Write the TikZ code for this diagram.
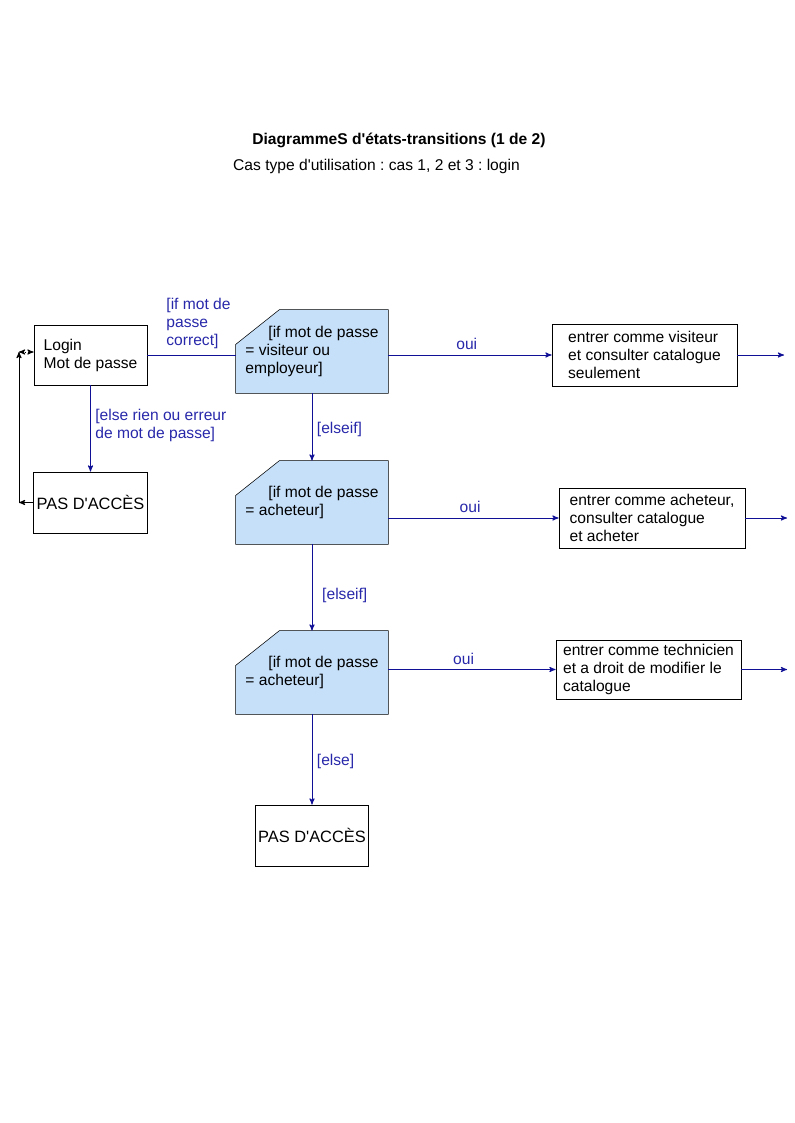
\documentclass[tikz,border=0pt]{standalone}
\usepackage{fontspec}
\setmainfont{Liberation Sans}
\usepackage{xcolor}
\usetikzlibrary{positioning,arrows,backgrounds}
\definecolor{lineblue}{RGB}{16,16,150}
\definecolor{textblue}{RGB}{40,40,170}
\definecolor{condfill}{RGB}{198,224,250}
\frenchspacing

\begin{document}
\begin{tikzpicture}[x=0.75pt,y=-0.75pt,>=stealth',line width=0.7pt]
  \tikzstyle{every node}=[font=\fontsize{11.7}{13.5}\selectfont]
  \tikzstyle{state}=[draw=black,align=left,inner sep=0pt]
  \tikzstyle{refus}=[draw=black,align=center,inner sep=0pt,minimum width=85pt,
                     minimum height=45.75pt,font=\fontsize{12.3}{14}\selectfont]
  \tikzstyle{cond}=[align=left,inner sep=0pt,minimum width=114pt,minimum height=62.25pt]
  \tikzstyle{trans}=[->,draw=lineblue]
  \tikzstyle{guard}=[text=textblue,align=left]

  \useasboundingbox (0,0) rectangle (794,1123);

  \node[font=\fontsize{11.7}{13.5}\selectfont\bfseries] (titre) at (399,140)
       {DiagrammeS d\textquotesingle états-transitions (1 de 2)};
  \node (soustitre) at (376.5,166) {Cas type d\textquotesingle utilisation : cas 1, 2 et 3 : login};

  \node[state,minimum width=84.75pt,minimum height=45pt] (login) at (90.5,355)
       {Login\\Mot de passe};
  \node[refus] (refus1) at (90.5,502.5) {PAS D\textquotesingle ACCÈS};

  \node[cond] (cond1) at (312,351.5) {\hspace*{17.25pt}[if mot de passe\\= visiteur ou\\employeur]};
  \node[cond] (cond2) at (312,502.5) {\hspace*{17.25pt}[if mot de passe\\= acheteur]};
  \node[cond] (cond3) at (312,672.5) {\hspace*{17.25pt}[if mot de passe\\= acheteur]};
  \node[refus] (refus2) at (312,835.5) {PAS D\textquotesingle ACCÈS};

  \node[state,minimum width=138.75pt,minimum height=46.5pt] (visiteur) at (644.5,355)
       {entrer comme visiteur\\et consulter catalogue\\seulement};
  \node[state,minimum width=139.5pt,minimum height=45pt] (acheteur) at (652,518)
       {entrer comme acheteur,\\consulter catalogue\\et acheter};
  \node[state,minimum width=138.75pt,minimum height=44.25pt] (technicien) at (648.5,669.5)
       {entrer comme technicien\\et a droit de modifier le\\catalogue};

  \coordinate (sortie1) at (784,355);
  \coordinate (sortie2) at (787,518);
  \coordinate (sortie3) at (787,669.5);
  \coordinate (retour1) at (19,502.5);
  \coordinate (retour2) at (19,352);

  % conditions (coin coupe)
  \begin{scope}[on background layer]
    \foreach \c in {cond1,cond2,cond3}
      \draw[fill=condfill] (\c.south west) -- (\c.south east) -- (\c.north east)
        -- ([xshift=33pt]\c.north west) -- ([yshift=-26.25pt]\c.north west) -- cycle;
  \end{scope}

  \draw[draw=lineblue] (login) -- node[guard,pos=0.21,anchor=south west,inner sep=0pt,yshift=4.5pt]
       {[if mot de\\passe\\correct]} (cond1.west |- login);
  \draw[trans] (login) -- node[guard,pos=0.47,anchor=west] {[else rien ou erreur\\de mot de passe]} (refus1);
  \draw[->] (refus1) -- (retour1);
  \draw[->] (retour1) -- (retour2);
  \draw[<->,densely dotted] (retour2) -- (login.west |- retour2);

  \draw[trans] (cond1.east |- visiteur.west) -- node[guard,above,pos=0.48] {oui} (visiteur.west);
  \draw[trans] (cond2.east |- acheteur.west) -- node[guard,above,pos=0.48] {oui} (acheteur.west);
  \draw[trans] (cond3.east |- technicien.west) -- node[guard,above,pos=0.45] {oui} (technicien.west);
  \draw[trans] (visiteur) -- (sortie1);
  \draw[trans] (acheteur) -- (sortie2);
  \draw[trans] (technicien) -- (sortie3);

  \draw[trans] (cond1) -- node[guard,pos=0.54,anchor=west] {[elseif]} (cond2);
  \draw[trans] (cond2) -- node[guard,pos=0.59,anchor=west,xshift=4pt] {[elseif]} (cond3);
  \draw[trans] (cond3) -- node[guard,pos=0.52,anchor=west] {[else]} (refus2);
\end{tikzpicture}
\end{document}
